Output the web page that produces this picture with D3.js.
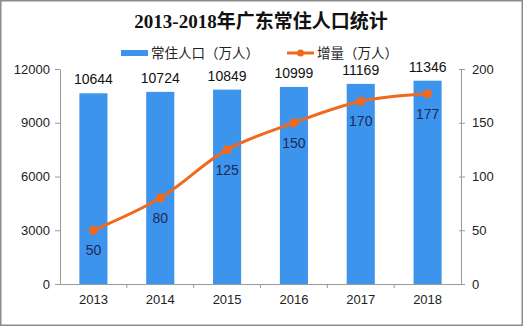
<!DOCTYPE html>
<html>
<head>
<meta charset="utf-8">
<script src="https://cdn.jsdelivr.net/npm/d3@7"></script>
<style>
  html, body { margin: 0; padding: 0; background: #fff; }
  svg { display: block; }
</style>
</head>
<body>
<svg id="chart" width="523" height="326"></svg>
<script>
// Guangdong resident population 2013-2018
const years = ["2013", "2014", "2015", "2016", "2017", "2018"];
const population = [10644, 10724, 10849, 10999, 11169, 11346]; // 万人
const increase = [50, 80, 125, 150, 170, 177];                   // 万人
const leftTicks = [0, 3000, 6000, 9000, 12000];
const rightTicks = [0, 50, 100, 150, 200];

const W = 523, H = 326;
const m = { top: 69, right: 62, bottom: 42, left: 60 };
const svg = d3.select("#chart");

const numFont = "'Liberation Sans', Arial, sans-serif";
const cjkFont = "'Noto Sans CJK SC', sans-serif";
const barColor = "#3D94EC";
const lineColor = "#F0691F";

// frame
svg.append("rect")
  .attr("x", 0.75).attr("y", 0.75)
  .attr("width", W - 1.5).attr("height", H - 1.5)
  .attr("fill", "#fff").attr("stroke", "#8c8c8c").attr("stroke-width", 1.5);

const x = d3.scaleBand().domain(years).range([m.left, W - m.right]).paddingInner(0).paddingOuter(0);
const yL = d3.scaleLinear().domain([0, 12000]).range([H - m.bottom, m.top]);
const yR = d3.scaleLinear().domain([0, 200]).range([H - m.bottom, m.top]);
const barW = x.bandwidth() * 0.42;

// title
svg.append("text")
  .attr("x", 261).attr("y", 28)
  .attr("text-anchor", "middle")
  .attr("font-family", "'Liberation Serif', 'Noto Sans CJK SC', serif")
  .attr("font-weight", "bold").attr("font-size", 19).attr("fill", "#111")
  .text("2013-2018年广东常住人口统计");

// legend
const lg = svg.append("g");
lg.append("rect").attr("x", 121).attr("y", 50).attr("width", 27).attr("height", 6).attr("fill", barColor);
lg.append("text").attr("x", 151).attr("y", 57.5).attr("font-family", cjkFont).attr("font-size", 13.5).attr("fill", "#222")
  .text("常住人口（万人）");
lg.append("line").attr("x1", 287).attr("x2", 314).attr("y1", 53).attr("y2", 53)
  .attr("stroke", lineColor).attr("stroke-width", 3);
lg.append("circle").attr("cx", 300.5).attr("cy", 53).attr("r", 3.5).attr("fill", lineColor);
lg.append("text").attr("x", 317).attr("y", 57.5).attr("font-family", cjkFont).attr("font-size", 13.5).attr("fill", "#222")
  .text("增量（万人）");

// bars
svg.append("g").selectAll("rect").data(years).join("rect")
  .attr("x", d => x(d) + (x.bandwidth() - barW) / 2)
  .attr("width", barW)
  .attr("y", (d, i) => yL(population[i]))
  .attr("height", (d, i) => yL(0) - yL(population[i]))
  .attr("fill", barColor);

// bar value labels
svg.append("g").selectAll("text").data(years).join("text")
  .attr("x", d => x(d) + x.bandwidth() / 2)
  .attr("y", (d, i) => yL(population[i]) - 9)
  .attr("text-anchor", "middle")
  .attr("font-family", numFont).attr("font-size", 14).attr("fill", "#111")
  .text((d, i) => population[i]);

// axes
function styleAxis(g) {
  g.selectAll("path.domain").attr("stroke", "#9a9a9a");
  g.selectAll(".tick line").attr("stroke", "#9a9a9a");
  g.selectAll(".tick text").attr("font-family", numFont).attr("font-size", 13).attr("fill", "#222");
}

svg.append("g")
  .attr("transform", `translate(${m.left},0)`)
  .call(d3.axisLeft(yL).tickValues(leftTicks).tickSize(5).tickSizeOuter(0).tickPadding(5).tickFormat(d3.format("d")))
  .call(styleAxis);

svg.append("g")
  .attr("transform", `translate(${W - m.right},0)`)
  .call(d3.axisRight(yR).tickValues(rightTicks).tickSize(4).tickSizeOuter(0).tickPadding(7).tickFormat(d3.format("d")))
  .call(g => g.selectAll(".tick line").attr("x1", -2))
  .call(styleAxis);

const xAxis = svg.append("g")
  .attr("transform", `translate(0,${H - m.bottom})`)
  .call(d3.axisBottom(x).tickSize(0).tickPadding(11))
  .call(styleAxis);
// category boundary ticks
xAxis.selectAll("line.sep").data(years.slice(1)).join("line")
  .attr("class", "sep")
  .attr("x1", d => x(d)).attr("x2", d => x(d))
  .attr("y1", 0).attr("y2", 4)
  .attr("stroke", "#9a9a9a");

// increase line
const cx = d => x(d) + x.bandwidth() / 2;
svg.append("path")
  .datum(years)
  .attr("fill", "none")
  .attr("stroke", lineColor)
  .attr("stroke-width", 3)
  .attr("d", d3.line().x(cx).y((d, i) => yR(increase[i])).curve(d3.curveCatmullRom.alpha(0.5)));

svg.append("g").selectAll("circle").data(years).join("circle")
  .attr("cx", cx)
  .attr("cy", (d, i) => yR(increase[i]))
  .attr("r", 4.5)
  .attr("fill", lineColor);

svg.append("g").selectAll("text").data(years).join("text")
  .attr("x", cx)
  .attr("y", (d, i) => yR(increase[i]) + 25)
  .attr("text-anchor", "middle")
  .attr("font-family", numFont).attr("font-size", 14).attr("fill", "#1C2A5A")
  .text((d, i) => increase[i]);
</script>
</body>
</html>
